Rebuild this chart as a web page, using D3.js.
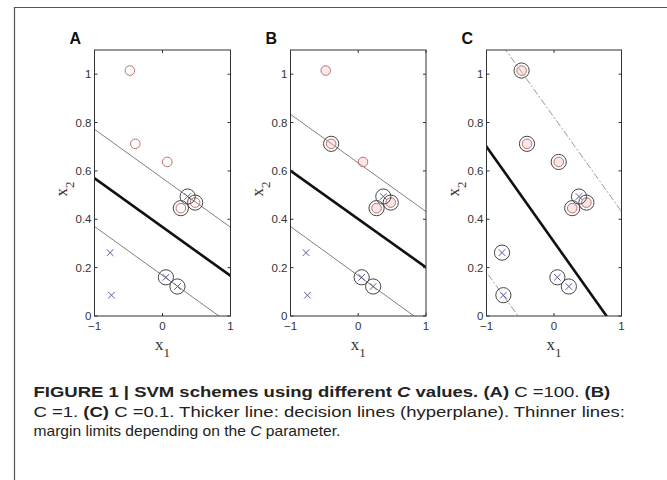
<!DOCTYPE html>
<html><head><meta charset="utf-8">
<script src="https://cdn.jsdelivr.net/npm/d3@7"></script>
<style>body{margin:0;background:#fff}svg{display:block}</style>
</head><body>
<svg id="c" width="667" height="480"></svg>
<script>
// ---- data ----
const redPts = [[-0.48,1.015],[-0.40,0.712],[0.07,0.637],[0.27,0.446],[0.48,0.469]];
const bluePts = [[0.37,0.494],[-0.77,0.262],[-0.75,0.086],[0.05,0.160],[0.22,0.122]];
const panelLabels = ["A","B","C"];
const supportRed = [[3,4],[1,3,4],[0,1,2,3,4]];
const supportBlue = [[0,3,4],[0,3,4],[0,1,2,3,4]];
const decisionLines = [[[-1,0.570],[1,0.166]],[[-1,0.601],[1,0.201]],[[-1,0.700],[0.778,0]]];
const upperLines = [[[-1,0.772],[1,0.367]],[[-1,0.834],[1,0.432]],[[-0.714,1.1],[1,0.432]]];
const lowerLines = [[[-1,0.370],[0.83,0]],[[-1,0.370],[0.823,0]],[[-1,0.181],[-0.532,0]]];
const yTicks = [0,0.2,0.4,0.6,0.8,1];
const yTickLabels = ["0","0.2","0.4","0.6","0.8","1"];
const xTicks = [-1,0,1];
const xTickLabels = ["\u22121","0","1"];

const svg = d3.select("#c");
// outer frame
svg.append("path").attr("d","M14.5,480 L14.5,7.5 L667,7.5").attr("fill","none").attr("stroke","#555").attr("stroke-width",1.2);

const boxes = [{x0:94.5,x1:230.5},{x0:290.5,x1:426},{x0:486.5,x1:621.5}];
const yTop=50, yBot=316;

boxes.forEach((b,i)=>{
  const xs = d3.scaleLinear().domain([-1,1]).range([b.x0,b.x1]);
  const ys = d3.scaleLinear().domain([0,1.1]).range([yBot,yTop]);
  const g = svg.append("g");
  const cid = "clip"+i;
  svg.append("clipPath").attr("id",cid).append("rect").attr("x",b.x0).attr("y",yTop).attr("width",b.x1-b.x0).attr("height",yBot-yTop);
  const lg = g.append("g").attr("clip-path",`url(#${cid})`);
  const ln = d3.line().x(d=>xs(d[0])).y(d=>ys(d[1]));
  function ext(seg){
    const [p,q]=seg; const s=(q[1]-p[1])/(q[0]-p[0]);
    return [[-1.2,p[1]+s*(-1.2-p[0])],[1.2,p[1]+s*(1.2-p[0])]];
  }
  [upperLines[i],lowerLines[i]].forEach(seg=>{
    lg.append("path").attr("d",ln(ext(seg))).attr("fill","none")
      .attr("stroke", i===2?"#999":"#808080").attr("stroke-width",1)
      .attr("stroke-dasharray", i===2?"7,2,2,2":null);
  });
  lg.append("path").attr("d",ln(ext(decisionLines[i]))).attr("fill","none").attr("stroke","#111").attr("stroke-width",2.6);
  const pg = g.append("g");
  pg.selectAll(".r").data(redPts).join("circle").attr("cx",d=>xs(d[0])).attr("cy",d=>ys(d[1])).attr("r",4.8)
    .attr("fill", i===0?"none":"rgba(240,190,190,0.35)").attr("stroke","#c07070").attr("stroke-width",1);
  pg.selectAll(".b").data(bluePts).join("path")
    .attr("d",d=>{const x=xs(d[0]),y=ys(d[1]),s=3.3;return `M${x-s},${y-s}L${x+s},${y+s}M${x-s},${y+s}L${x+s},${y-s}`;})
    .attr("stroke","#5a5a9a").attr("stroke-width",1);
  const sv = supportRed[i].map(k=>redPts[k]).concat(supportBlue[i].map(k=>bluePts[k]));
  pg.selectAll(".s").data(sv).join("circle").attr("cx",d=>xs(d[0])).attr("cy",d=>ys(d[1])).attr("r",7.6)
    .attr("fill","none").attr("stroke","#444").attr("stroke-width",1);
  g.append("rect").attr("x",b.x0).attr("y",yTop).attr("width",b.x1-b.x0).attr("height",yBot-yTop)
    .attr("fill","none").attr("stroke","#333").attr("stroke-width",1);
  const tk=3;
  yTicks.forEach((t,k)=>{
    const y=ys(t);
    g.append("line").attr("x1",b.x0).attr("x2",b.x0+tk).attr("y1",y).attr("y2",y).attr("stroke","#333");
    g.append("line").attr("x1",b.x1).attr("x2",b.x1-tk).attr("y1",y).attr("y2",y).attr("stroke","#333");
    g.append("text").attr("x",b.x0-3).attr("y",y+4).attr("text-anchor","end")
      .attr("font-family","Liberation Sans, Arial, sans-serif").attr("font-size",11.5).attr("fill","#333").text(yTickLabels[k]);
  });
  xTicks.forEach((t,k)=>{
    const x=xs(t);
    g.append("line").attr("x1",x).attr("x2",x).attr("y1",yBot).attr("y2",yBot-tk).attr("stroke","#333");
    g.append("line").attr("x1",x).attr("x2",x).attr("y1",yTop).attr("y2",yTop+tk).attr("stroke","#333");
    g.append("text").attr("x",x).attr("y",yBot+14).attr("text-anchor","middle")
      .attr("font-family","Liberation Sans, Arial, sans-serif").attr("font-size",11.5).attr("fill","#333").text(xTickLabels[k]);
  });
  const cx=(b.x0+b.x1)/2;
  const xl = g.append("text").attr("x",cx).attr("y",350).attr("text-anchor","middle")
    .attr("font-family","Liberation Serif, Times New Roman, serif").attr("font-size",17).attr("fill","#333");
  xl.append("tspan").text("x");
  xl.append("tspan").attr("dy",7).attr("font-size",13).text("1");
  const yl = g.append("text").attr("transform",`translate(${b.x0-28},${(yTop+yBot)/2+6}) rotate(-90)`).attr("text-anchor","middle")
    .attr("font-family","Liberation Serif, Times New Roman, serif").attr("font-size",17).attr("fill","#333");
  yl.append("tspan").text("x");
  yl.append("tspan").attr("dy",7).attr("font-size",13).text("2");
  g.append("text").attr("x",b.x0-25).attr("y",44).attr("font-family","Liberation Sans, Arial, sans-serif")
    .attr("font-weight","bold").attr("font-size",16).attr("fill","#111").text(panelLabels[i]);
});

// caption
const capLines = [
  {y:397, w:577, parts:[["FIGURE 1 | SVM schemes using different ","bold",""],["C","bold","italic"],[" values. ","bold",""],["(A)","bold",""],[" C =100. ","",""],["(B)","bold",""]]},
  {y:416.5, w:592, parts:[["C =1. ","",""],["(C)","bold",""],[" C =0.1. Thicker line: decision lines (hyperplane). Thinner lines:","",""]]},
  {y:435.5, w:307, parts:[["margin limits depending on the ","",""],["C","","italic"],[" parameter.","",""]]}
];
capLines.forEach(L=>{
  const t = svg.append("text").attr("x",0).attr("y",0).attr("font-family","Liberation Sans, Arial, sans-serif").attr("font-size",15).attr("fill","#222").style("white-space","pre");
  L.parts.forEach(p=>{t.append("tspan").attr("font-weight",p[1]||null).attr("font-style",p[2]||null).text(p[0]);});
  const w = t.node().getComputedTextLength();
  t.attr("transform",`translate(33.5,${L.y}) scale(${L.w/w},1)`);
});
</script>
</body></html>
